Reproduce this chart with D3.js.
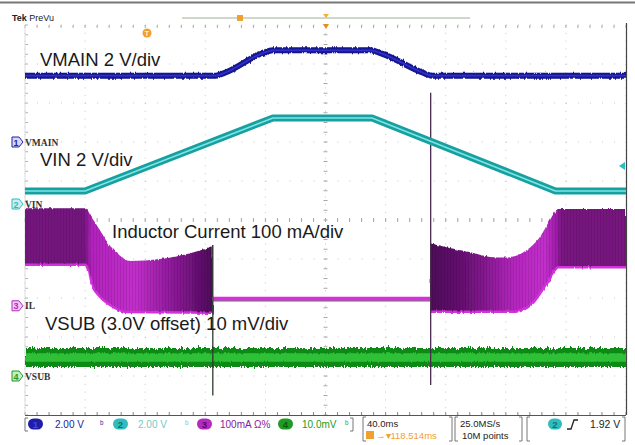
<!DOCTYPE html>
<html>
<head>
<meta charset="utf-8">
<script src="https://d3js.org/d3.v7.min.js"></script>
<style>
body { margin: 0; background: #fff; }
svg text { font-family: "Liberation Sans", Arial, sans-serif; }
</style>
</head>
<body>
<div id="scope"></div>
<script>

// scope settings
var timePerDiv = 40;            // ms/div
var recordMs = [0, 400];        // 10 divisions

var channelNames = ["VMAIN", "VIN", "IL", "VSUB"];
var channelNums = ["1", "2", "3", "4"];
var channelScale = [2, 2, 100, 10];         // V/div, V/div, mA/div, mV/div
var channelPos = [2.0, 0.41, -2.2, -4.0];   // ground marker, divisions from centre
var scaleLabels = ["2.00 V", "2.00 V", "100mA \u03a9%", "10.0mV"];
var notes = ["VMAIN 2 V/div", "VIN 2 V/div", "Inductor Current 100 mA/div", "VSUB (3.0V offset) 10 mV/div"];

// traces, [time ms, value]
var vmain = [[0,3.4],[127,3.4],[133,3.55],[158,4.55],[165,4.7],[230,4.7],[237,4.55],[265,3.55],[271,3.4],[400,3.4]];
var vin = [[0,0.67],[40,0.67],[165,4.41],[231,4.41],[353,0.67],[400,0.67]];

// inductor current envelope (mA), two switching bursts and the idle level
var ilUpperLeft = [[0,250],[40,250],[44.6,225],[49.9,194],[55.2,161],[61.9,133],[69.9,115],[90,120],[110,135],[125,153]];
var ilLowerLeft = [[0,105],[40,105],[41.9,92],[43.3,66],[49.9,23],[56.6,2],[67.9,-16],[125,-18]];
var ilUpperRight = [[270,160],[294,139],[314,124],[320.6,124],[334,143],[342.8,177],[349.4,220],[354.9,248],[400,248]];
var ilLowerRight = [[270,-15],[326.2,-15],[337.9,7],[347.2,58],[352.7,92],[354.8,99],[400,99]];
var ilIdle = [[125,19],[270,19]];

// VSUB noise band (mV above 3.0 V offset)
var vsubUpper = [[0,7.2],[400,7.2]];
var vsubLower = [[0,2.3],[400,2.3]];

// switching glitches, time ms and extent in divisions
var spikeTimes = [125, 270];
var spikeTop = [-0.64, 3.26];
var spikeBottom = [-4.5, -4.23];

var W = 635, H = 445;
var plot = {left: 25, right: 626, top: 25, bottom: 415};

var svg = d3.select("#scope").append("svg")
    .attr("width", W).attr("height", H);

var x = d3.scaleLinear().domain(recordMs).range([plot.left, plot.right]);
var yDiv = d3.scaleLinear().domain([-5, 5]).range([plot.bottom, plot.top]);
function chY(ch) {
  return function(v) { return yDiv(v / channelScale[ch] + channelPos[ch]); };
}

var defs = svg.append("defs");
defs.append("clipPath").attr("id", "clip").append("rect")
    .attr("x", plot.left).attr("y", plot.top)
    .attr("width", plot.right - plot.left).attr("height", plot.bottom - plot.top);

// jagged edges for noisy traces
function noiseFilter(id, fx, scale, seed) {
  var f = defs.append("filter").attr("id", id)
      .attr("x", "-2%").attr("y", "-100%").attr("width", "104%").attr("height", "300%");
  f.append("feTurbulence").attr("type", "fractalNoise")
      .attr("baseFrequency", fx + " 0.03").attr("numOctaves", 2).attr("seed", seed).attr("result", "n");
  f.append("feDisplacementMap").attr("in", "SourceGraphic").attr("in2", "n")
      .attr("scale", scale).attr("xChannelSelector", "R").attr("yChannelSelector", "G");
}
noiseFilter("jagG", 0.7, 7, 3);
noiseFilter("jagB", 0.6, 3, 7);
noiseFilter("jagP", 0.5, 3, 11);

// purple fills
function grad(id, stops) {
  var g = defs.append("linearGradient").attr("id", id)
      .attr("gradientUnits", "userSpaceOnUse")
      .attr("x1", stops[0][0]).attr("x2", stops[stops.length - 1][0]).attr("y1", 0).attr("y2", 0);
  var x0 = stops[0][0], span = stops[stops.length - 1][0] - x0;
  stops.forEach(function(s) {
    g.append("stop").attr("offset", (s[0] - x0) / span).attr("stop-color", s[1]);
  });
}
grad("ilL", [[25,"#74147f"],[84,"#74147f"],[92,"#b222bd"],[135,"#c22fcb"],[175,"#8a1896"],[213,"#4c0a58"]]);
grad("ilR", [[430,"#4c0a58"],[470,"#6e1279"],[515,"#b526bf"],[545,"#c22fcb"],[556,"#a01cab"],[562,"#77167f"],[626,"#77167f"]]);

var stripes = defs.append("pattern").attr("id", "stripes")
    .attr("patternUnits", "userSpaceOnUse").attr("width", 3).attr("height", 10);
stripes.append("rect").attr("width", 1).attr("height", 10).attr("fill", "#000").attr("opacity", 0.1);

// ---- graticule
var grid = svg.append("g");
d3.range(0, 11).forEach(function(i) {
  grid.append("line")
      .attr("x1", x(i * timePerDiv)).attr("x2", x(i * timePerDiv))
      .attr("y1", plot.top).attr("y2", plot.bottom)
      .attr("stroke", "#c6c6c6").attr("stroke-dasharray", "1,6.8");
});
d3.range(-5, 6).forEach(function(j) {
  grid.append("line")
      .attr("x1", plot.left).attr("x2", plot.right)
      .attr("y1", yDiv(j)).attr("y2", yDiv(j))
      .attr("stroke", "#c6c6c6").attr("stroke-dasharray", "1,11.02");
});
var minorX = d3.range(0, 51).map(function(k) { return x(k * timePerDiv / 5); });
var minorY = d3.range(0, 41).map(function(k) { return yDiv(-5 + k / 4); });
minorX.forEach(function(px) {
  grid.append("line").attr("x1", px).attr("x2", px).attr("y1", yDiv(0) - 2).attr("y2", yDiv(0) + 2).attr("stroke", "#a8a8a8");
  grid.append("line").attr("x1", px).attr("x2", px).attr("y1", plot.top).attr("y2", plot.top + 3).attr("stroke", "#a8a8a8");
  grid.append("line").attr("x1", px).attr("x2", px).attr("y1", plot.bottom - 3).attr("y2", plot.bottom).attr("stroke", "#888");
});
minorY.forEach(function(py) {
  grid.append("line").attr("x1", x(200) - 2).attr("x2", x(200) + 2).attr("y1", py).attr("y2", py).attr("stroke", "#a8a8a8");
  grid.append("line").attr("x1", plot.left).attr("x2", plot.left + 3).attr("y1", py).attr("y2", py).attr("stroke", "#b0b0b0");
});
grid.append("line").attr("x1", plot.left).attr("x2", plot.left)
    .attr("y1", plot.top).attr("y2", plot.bottom).attr("stroke", "#dcdcdc");
grid.append("line").attr("x1", plot.right + 0.5).attr("x2", plot.right + 0.5)
    .attr("y1", plot.top - 2).attr("y2", plot.bottom).attr("stroke", "#444").attr("stroke-width", 1.2);
grid.append("line").attr("x1", plot.left).attr("x2", plot.right)
    .attr("y1", plot.bottom + 0.5).attr("y2", plot.bottom + 0.5).attr("stroke", "#555").attr("stroke-width", 1.2);

var traces = svg.append("g").attr("clip-path", "url(#clip)");

// ---- VSUB (channel 4)
var y4 = chY(3);
function band(up, lo, yf, curve) {
  var ln = d3.line().x(function(d) { return x(d[0]); }).y(function(d) { return yf(d[1]); }).curve(curve || d3.curveLinear);
  return ln(up) + ln(lo.slice().reverse()).replace(/^M/, "L") + "Z";
}
traces.append("path").attr("d", band(vsubUpper, vsubLower, y4))
    .attr("fill", "#118a14").attr("filter", "url(#jagG)");
traces.append("path").attr("d", band(vsubUpper, vsubLower, y4))
    .attr("fill", "#33c83a").attr("filter", "url(#jagG)").attr("opacity", 0.9)
    .style("transform-box", "fill-box").style("transform-origin", "center")
    .style("transform", "scaleY(0.45)");

// ---- inductor current (channel 3)
var y3 = chY(2);
var mono = d3.curveMonotoneX;
traces.append("path").attr("d", band(ilUpperLeft, ilLowerLeft, y3, mono))
    .attr("fill", "url(#ilL)").attr("filter", "url(#jagP)");
traces.append("path").attr("d", band(ilUpperRight, ilLowerRight, y3, mono))
    .attr("fill", "url(#ilR)").attr("filter", "url(#jagP)");
traces.append("path").attr("d", band(ilUpperLeft, ilLowerLeft, y3, mono)).attr("fill", "url(#stripes)");
traces.append("path").attr("d", band(ilUpperRight, ilLowerRight, y3, mono)).attr("fill", "url(#stripes)");
var ilLine = d3.line().x(function(d) { return x(d[0]); }).y(function(d) { return y3(d[1]); }).curve(mono);
[ilLowerLeft, ilLowerRight].forEach(function(s) {
  traces.append("path").attr("d", ilLine(s)).attr("fill", "none")
      .attr("stroke", "#d233dc").attr("stroke-width", 2.5).attr("filter", "url(#jagP)");
});
traces.append("path").attr("d", ilLine(ilIdle)).attr("fill", "none")
    .attr("stroke", "#d92ee0").attr("stroke-width", 3.5);
traces.append("path").attr("d", ilLine(ilIdle)).attr("fill", "none")
    .attr("stroke", "#6a1474").attr("stroke-width", 1).attr("transform", "translate(0,2.5)");

// glitches
spikeTimes.forEach(function(t, i) {
  traces.append("line")
      .attr("x1", x(t)).attr("x2", x(t))
      .attr("y1", yDiv(spikeTop[i])).attr("y2", yDiv(spikeBottom[i]))
      .attr("stroke", i === 0 ? "#2c3a2c" : "#4a2850").attr("stroke-width", 1.3);
});

// ---- VIN (channel 2)
var y2 = chY(1);
var vinLine = d3.line().x(function(d) { return x(d[0]); }).y(function(d) { return y2(d[1]); });
traces.append("path").attr("d", vinLine(vin)).attr("fill", "none")
    .attr("stroke", "#17a0a0").attr("stroke-width", 7).attr("stroke-linejoin", "round");
traces.append("path").attr("d", vinLine(vin)).attr("fill", "none")
    .attr("stroke", "#7fe3e3").attr("stroke-width", 1.6).attr("stroke-linejoin", "round");

// ---- VMAIN (channel 1)
var y1 = chY(0);
var vmLine = d3.line().x(function(d) { return x(d[0]); }).y(function(d) { return y1(d[1]); }).curve(mono);
traces.append("path").attr("d", vmLine(vmain)).attr("fill", "none")
    .attr("stroke", "#15158f").attr("stroke-width", 6).attr("filter", "url(#jagB)");
traces.append("path").attr("d", vmLine(vmain)).attr("fill", "none")
    .attr("stroke", "#2f2fcc").attr("stroke-width", 1.8);

// ---- annotations
var noteAt = [[40, 66], [40, 166], [112, 238], [45, 330]];
notes.forEach(function(t, i) {
  svg.append("text").attr("x", noteAt[i][0]).attr("y", noteAt[i][1])
      .attr("font-size", 18.5).attr("fill", "#1a1a1a").text(t);
});

// channel ground markers
var chColor = ["#1e1eaa", "#2fbcbc", "#b32cbf", "#1f9a22"];
var chFill = ["#d8d8f4", "#c8f0f0", "#f2c8f4", "#c8ecc8"];
channelNames.forEach(function(n, i) {
  var py = yDiv(channelPos[i]);
  var m = svg.append("g");
  m.append("path")
      .attr("d", "M12," + (py - 5) + "H19L23," + py + "L19," + (py + 5) + "H12Z")
      .attr("fill", chFill[i]).attr("stroke", chColor[i]).attr("stroke-width", 1);
  m.append("text").attr("x", 16).attr("y", py + 3.5).attr("text-anchor", "middle")
      .attr("font-size", 9).attr("font-weight", "bold").attr("fill", chColor[i]).text(channelNums[i]);
  m.append("text").attr("x", 25).attr("y", py + 3.5)
      .attr("font-size", 9.5).attr("font-weight", "bold")
      .style("font-family", "'Liberation Serif', serif").attr("fill", "#333").text(n);
});

// top: title, record bar, markers
svg.append("line").attr("x1", 0).attr("x2", W).attr("y1", 2.5).attr("y2", 2.5)
    .attr("stroke", "#777").attr("stroke-width", 2);
svg.append("text").attr("x", 12).attr("y", 21).attr("font-size", 9).attr("fill", "#222")
    .html("<tspan font-weight='bold'>Tek</tspan> PreVu");
svg.append("line").attr("x1", 182).attr("x2", 470).attr("y1", 18).attr("y2", 18)
    .attr("stroke", "#9fb092").attr("stroke-width", 1);
svg.append("rect").attr("x", 237).attr("y", 15).attr("width", 6).attr("height", 6)
    .attr("fill", "#f0a030");
svg.append("path").attr("d", "M323,14H329L326,18Z").attr("fill", "#f0b040");
svg.append("path").attr("d", "M323,24H329L326,29Z").attr("fill", "#e09020");
svg.append("circle").attr("cx", 147).attr("cy", 33).attr("r", 4.5).attr("fill", "#f0a030");
svg.append("text").attr("x", 147).attr("y", 36).attr("text-anchor", "middle")
    .attr("font-size", 7).attr("font-weight", "bold").attr("fill", "#fff3d0").text("T");
svg.append("path").attr("d", "M619,166L625,162V170Z").attr("fill", "#2fbcbc");

// ---- bottom readout
var bar = svg.append("g");
var by = 424;
var pillX = [28, 113, 197, 278];
var labelX = [55, 138, 220, 302];
var labelColor = ["#22229a", "#6fcaca", "#8a1a9a", "#1c9a1c"];
var pillText = ["#4848d8", "#107070", "#5a0a66", "#0b5a0b"];
channelNums.forEach(function(n, i) {
  bar.append("rect").attr("x", pillX[i]).attr("y", by - 5.5).attr("width", 15).attr("height", 11)
      .attr("rx", 5.5).attr("fill", chColor[i]);
  bar.append("text").attr("x", pillX[i] + 7.5).attr("y", by + 3.5).attr("text-anchor", "middle")
      .attr("font-size", 9.5).attr("font-weight", "bold").attr("fill", pillText[i]).text(n);
  bar.append("text").attr("x", labelX[i]).attr("y", by + 4).attr("font-size", 10)
      .attr("fill", labelColor[i]).text(scaleLabels[i]);
});
[[100, "#22229a"], [185, "#6fcaca"], [345, "#1c9a1c"]].forEach(function(s) {
  bar.append("text").attr("x", s[0]).attr("y", by + 3).attr("font-size", 9).attr("fill", s[1]).text("\u1d47");
});
function bracket(x0, x1, y0, y1) {
  bar.append("path").attr("d", "M" + (x0 + 3) + "," + y0 + "H" + x0 + "V" + y1 + "H" + (x0 + 3))
      .attr("fill", "none").attr("stroke", "#777");
  bar.append("path").attr("d", "M" + (x1 - 3) + "," + y0 + "H" + x1 + "V" + y1 + "H" + (x1 - 3))
      .attr("fill", "none").attr("stroke", "#777");
}
bracket(25, 353, 418, 431);
bracket(363, 452, 417, 441);
bracket(455, 522, 417, 441);
bracket(527, 625, 417, 441);
bar.append("text").attr("x", 367).attr("y", 427).attr("font-size", 9.5).attr("fill", "#222").text("40.0ms");
bar.append("rect").attr("x", 366).attr("y", 431).attr("width", 8).attr("height", 8).attr("fill", "#f0a030");
bar.append("text").attr("x", 376).attr("y", 438.5).attr("font-size", 9.5).attr("fill", "#f0a030").text("\u2192\u25be118.514ms");
bar.append("text").attr("x", 460).attr("y", 427).attr("font-size", 9.5).attr("fill", "#222").text("25.0MS/s");
bar.append("text").attr("x", 462).attr("y", 438.5).attr("font-size", 9.5).attr("fill", "#222").text("10M points");
bar.append("rect").attr("x", 548).attr("y", by - 5.5).attr("width", 14).attr("height", 11).attr("rx", 5.5).attr("fill", "#2fbcbc");
bar.append("text").attr("x", 555).attr("y", by + 3.5).attr("text-anchor", "middle")
    .attr("font-size", 9.5).attr("font-weight", "bold").attr("fill", "#107070").text("2");
bar.append("path").attr("d", "M567,429H571L574,420H578").attr("fill", "none").attr("stroke", "#222").attr("stroke-width", 1.3);
bar.append("text").attr("x", 590).attr("y", 428).attr("font-size", 10.5).attr("fill", "#222").text("1.92 V");

</script>
</body>
</html>
